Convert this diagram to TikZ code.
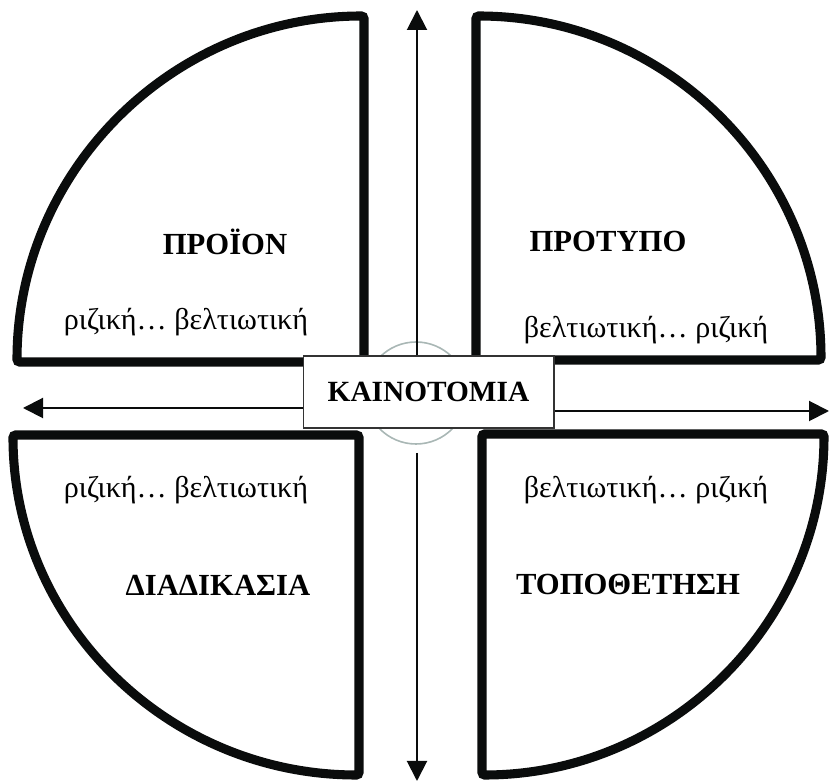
\documentclass[tikz,border=0pt]{standalone}
\usepackage{fontspec}
\setmainfont{Liberation Serif}
\usepackage{xcolor}
\definecolor{ring}{HTML}{A9B7B5}
\definecolor{edge}{HTML}{0A0C0C}
\usepackage{tikz}
\usetikzlibrary{arrows.meta,positioning,calc}
\tikzset{
  >={Triangle[length=15pt,width=15pt]},
  quad/.style={draw=edge,line width=6.8pt,rounded corners=2pt,fill=white},
  ttl/.style={font=\fontsize{23}{27}\selectfont\bfseries,inner sep=0pt},
  sub/.style={font=\fontsize{22.6}{26}\selectfont,inner sep=0pt},
  cbox/.style={draw=black!80,line width=1pt,fill=white,minimum width=188pt,minimum height=54pt,inner sep=0pt,font=\fontsize{22}{26}\selectfont\bfseries},
  arr/.style={->,draw=edge,line width=1.5pt},
}
\begin{document}
\begin{tikzpicture}[x=0.75pt,y=0.75pt]
\useasboundingbox (0,0) rectangle (829,782);
% ring behind the centre
\draw[ring,line width=1.2pt] (416,389) circle[radius=51];
% quadrants
\draw[quad] (364,420) -- (17,420) arc[start angle=180,end angle=90,x radius=347,y radius=346] -- cycle;
\draw[quad] (476,422) -- (821,422) arc[start angle=0,end angle=90,x radius=345,y radius=344] -- cycle;
\draw[quad] (359,347) -- (359,7) arc[start angle=270,end angle=180,x radius=346,y radius=340] -- cycle;
\draw[quad] (482,348) -- (824,348) arc[start angle=0,end angle=-90,x radius=342,y radius=341] -- cycle;
% arrow ends
\coordinate (up) at (417,772);
\coordinate (dn0) at (417,329);
\coordinate (dn) at (417,1);
\coordinate (lt) at (23,374);
\coordinate (rt) at (829,371);
\node[cbox] (inno) at (428.5,390) {KAINOTOMIA};
\draw[arr] (inno.north -| up) -- (up);
\draw[arr] (dn0) -- (dn);
\draw[arr] (inno.west |- lt) -- (lt);
\draw[arr] (inno.east |- rt) -- (rt);
% labels
\node[ttl] (prod) at (225,540) {ΠΡΟΪΟΝ};
\node[ttl] (model) at (608,540) {ΠΡΟΤΥΠΟ};
\node[ttl] (proc) at (218,197) {ΔΙΑΔΙΚΑΣΙΑ};
\node[ttl] (place) at (628,197) {ΤΟΠΟΘΕΤΗΣΗ};
\node[sub] (prods) at (186,460) {ριζική… βελτιωτική};
\node[sub] (models) at (646,452) {βελτιωτική… ριζική};
\node[sub] (procs) at (186,292) {ριζική… βελτιωτική};
\node[sub] (places) at (646,292) {βελτιωτική… ριζική};
\end{tikzpicture}
\end{document}
